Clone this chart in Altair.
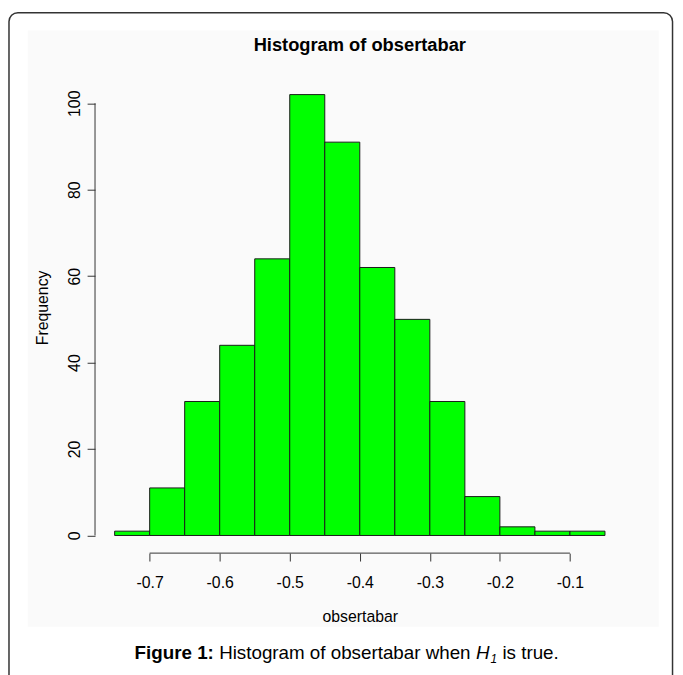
import altair as alt
import pandas as pd

# ---- data ----
bin_starts = [-0.75, -0.70, -0.65, -0.60, -0.55, -0.50, -0.45, -0.40, -0.35, -0.30, -0.25, -0.20, -0.15, -0.10]
bin_width = 0.05
counts = [1, 11, 31, 44, 64, 102, 91, 62, 50, 31, 9, 2, 1, 1]
x_ticks = [-0.7, -0.6, -0.5, -0.4, -0.3, -0.2, -0.1]
y_ticks = [0, 20, 40, 60, 80, 100]
title_text = "Histogram of obsertabar"
x_title = "obsertabar"
y_title = "Frequency"
cap_bold = "Figure 1:"
cap_mid = "Histogram of obsertabar when"
cap_h = "H"
cap_sub = "1"
cap_end = "is true."

FONT = "Liberation Sans"
W, H = 535.5, 481.5

df = pd.DataFrame({"start": bin_starts,
                   "end": [round(s + bin_width, 2) for s in bin_starts],
                   "count": counts})

xs = alt.Scale(domain=[-0.778, -0.022], nice=False, zero=False)
ys = alt.Scale(domain=[-4.08, 106.08], nice=False, zero=False)

lab_expr = "datum.value < 0 ? '-' + format(-datum.value, '.1f') : format(datum.value, '.1f')"

one = alt.Data(values=[{"a": 1}])

# background panel and outer frame (decoration)
panel = alt.Chart(one).mark_rect(fill="#fafafa", stroke=None).encode(
    x=alt.value(-68), x2=alt.value(570), y=alt.value(-47), y2=alt.value(556))
frame = alt.Chart(one).mark_rect(fill=None, stroke="#333333", strokeWidth=1.5, cornerRadius=9).encode(
    x=alt.value(-87), x2=alt.value(584), y=alt.value(-65), y2=alt.value(640))

bars = alt.Chart(df).mark_rect(fill="#00ff00", stroke="#1a1a1a", strokeWidth=1).encode(
    x=alt.X("start:Q", scale=xs,
            axis=alt.Axis(values=x_ticks, title=x_title, domain=False, grid=False, zindex=2,
                          tickSize=8, tickColor="#333333", tickWidth=1,
                          labelExpr=lab_expr, labelFont=FONT, labelFontSize=16,
                          labelColor="black", labelPadding=14,
                          titleFont=FONT, titleFontSize=16, titleFontWeight="normal",
                          titleColor="black", titleBaseline="alphabetic", titleY=69)),
    x2="end:Q",
    y=alt.Y("count:Q", scale=ys,
            axis=alt.Axis(values=y_ticks, title=y_title, domain=False, grid=False, zindex=2,
                          tickSize=8, tickColor="#333333", tickWidth=1,
                          labelAngle=270, labelAlign="center", labelBaseline="bottom",
                          labelFont=FONT, labelFontSize=16, labelColor="black",
                          labelPadding=5,
                          titleFont=FONT, titleFontSize=16, titleFontWeight="normal",
                          titleColor="black", titleBaseline="alphabetic", titleX=-48,
                          titleY=233)),
    y2=alt.datum(0),
)

xline = alt.Chart(one).mark_rule(color="#333333", strokeWidth=1).encode(
    x=alt.datum(x_ticks[0], scale=xs), x2=alt.datum(x_ticks[-1]), y=alt.value(H))
yline = alt.Chart(one).mark_rule(color="#333333", strokeWidth=1).encode(
    y=alt.datum(y_ticks[0], scale=ys), y2=alt.datum(y_ticks[-1]), x=alt.value(0))

# caption pieces, laid out from Arial/Liberation width metrics
CS = 19
sp = 0.278 * CS
bold_w = {"F": .611, "i": .278, "g": .611, "u": .611, "r": .389, "e": .556, " ": .278, "1": .556, ":": .333}
reg_w = {" ": .278, "H": .722, "i": .222, "s": .5, "t": .278, "o": .556, "g": .556, "r": .333,
         "a": .556, "m": .833, "f": .278, "b": .556, "e": .556, "w": .722, "h": .556, "n": .556,
         "u": .556, ".": .278, "1": .556}

def wid(s, table, size):
    return sum(table.get(c, 0.556) for c in s) * size

cx0 = 40
cx1 = cx0 + wid(cap_bold, bold_w, CS) + sp
cx2 = cx1 + wid(cap_mid, reg_w, CS) + sp
cx3 = cx2 + wid(cap_h, reg_w, CS) + 1
cx4 = cx3 + wid(cap_sub, reg_w, 12) + sp
cy = 589

def txt(s, x, y, size, weight="normal", style="normal", align="left"):
    return alt.Chart(one).mark_text(text=s, align=align, baseline="alphabetic", font=FONT,
                                    fontSize=size, fontWeight=weight, fontStyle=style,
                                    color="black").encode(x=alt.value(x), y=alt.value(y))

title = txt(title_text, W / 2, -26.5, 18.5, weight="bold", align="center")

caption = (txt(cap_bold, cx0, cy, CS, weight="bold")
           + txt(cap_mid, cx1, cy, CS)
           + txt(cap_h, cx2, cy, CS, style="italic")
           + txt(cap_sub, cx3, cy + 4, 12, style="italic")
           + txt(cap_end, cx4, cy, CS))

chart = alt.layer(panel, frame, bars, xline, yline, title, caption).properties(
    width=W, height=H,
    autosize=alt.AutoSizeParams(type="none"),
    padding={"left": 88, "top": 66, "right": 51, "bottom": 119},
).configure_view(stroke=None).configure(background="white")

chart.save("out.html", embed_options={"renderer": "svg", "actions": False})
